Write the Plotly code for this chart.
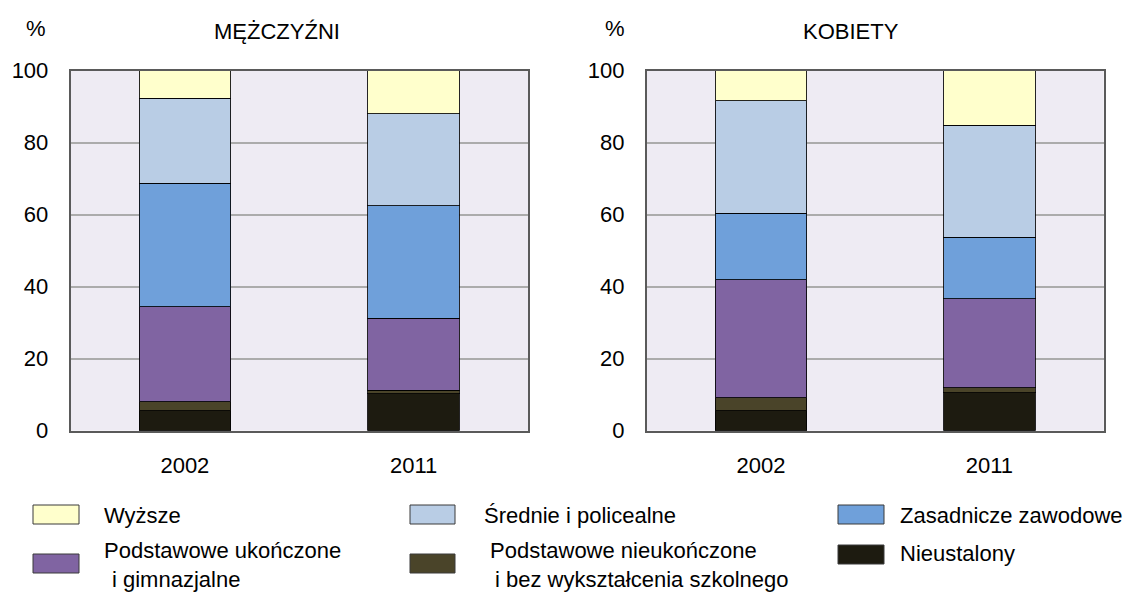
import plotly.graph_objects as go

W, H = 1141, 592
OFF = 8  # default body margin of the page
FW, FH = W - OFF, H - OFF

categories = ["2002", "2011"]

series_names = [
    "Nieustalony",
    "Podstawowe nieukończone\ni bez wykształcenia szkolnego",
    "Podstawowe ukończone\ni gimnazjalne",
    "Zasadnicze zawodowe",
    "Średnie i policealne",
    "Wyższe",
]
series_colors = ["#1D1B10", "#4A4429", "#8064A2", "#6FA0DA", "#B9CDE5", "#FFFFCC"]

men_nieustalony = [5.6, 10.3]
men_nieukonczone = [2.5, 1.0]
men_ukonczone = [26.3, 20.0]
men_zasadnicze = [34.3, 31.2]
men_srednie = [23.7, 25.6]
men_wyzsze = [7.6, 11.9]

women_nieustalony = [5.5, 10.5]
women_nieukonczone = [3.6, 1.4]
women_ukonczone = [32.8, 24.8]
women_zasadnicze = [18.5, 17.1]
women_srednie = [31.2, 31.0]
women_wyzsze = [8.4, 15.2]

men = [men_nieustalony, men_nieukonczone, men_ukonczone, men_zasadnicze, men_srednie, men_wyzsze]
women = [women_nieustalony, women_nieukonczone, women_ukonczone, women_zasadnicze, women_srednie, women_wyzsze]

panel_titles = ["MĘŻCZYŹNI", "KOBIETY"]
y_ticks = [0, 20, 40, 60, 80, 100]

FONT = "Liberation Sans, Arial, sans-serif"
FS = 22


def px(x):
    return (x - OFF) / FW


def py(y):
    return 1 - (y - OFF) / FH


fig = go.Figure()
for panel, data in enumerate([men, women]):
    xa = "x" if panel == 0 else "x2"
    ya = "y" if panel == 0 else "y2"
    for name, color, vals in zip(series_names, series_colors, data):
        fig.add_trace(go.Bar(
            x=categories, y=vals, name=name.replace("\n", " "),
            marker=dict(color=color, line=dict(color="rgba(0,0,0,0.85)", width=1)),
            xaxis=xa, yaxis=ya, showlegend=False,
        ))

axis_common_x = dict(
    type="category", showline=True, mirror=True, linecolor="#5A5A5A", linewidth=1.5,
    showgrid=False, ticks="outside", ticklen=14, tickcolor="rgba(0,0,0,0)",
    tickfont=dict(family=FONT, size=FS, color="#000"), fixedrange=True, automargin=False,
)
axis_common_y = dict(
    range=[0, 100], tickvals=y_ticks, showline=True, mirror=True, linecolor="#5A5A5A",
    linewidth=1.5, showgrid=True, gridcolor="#ABABAB", gridwidth=1.5, zeroline=False,
    ticks="outside", ticklen=16, tickcolor="rgba(0,0,0,0)",
    tickfont=dict(family=FONT, size=FS, color="#000"), fixedrange=True, automargin=False,
)

fig.update_layout(
    width=FW, height=FH,
    margin=dict(l=0, r=0, t=0, b=0, autoexpand=False),
    paper_bgcolor="white", plot_bgcolor="#EEEBF3",
    barmode="stack", bargap=0.6,
    font=dict(family=FONT, size=FS, color="#000"),
    xaxis=dict(domain=[px(70.5), px(528)], anchor="y", **axis_common_x),
    yaxis=dict(domain=[py(430.7), py(70.7)], anchor="x", **axis_common_y),
    xaxis2=dict(domain=[px(646.7), px(1103.7)], anchor="y2", **axis_common_x),
    yaxis2=dict(domain=[py(430.7), py(70.7)], anchor="x2", **axis_common_y),
    showlegend=False,
)

annotations = []
for xpos, text in [(36, "%"), (614.5, "%")]:
    annotations.append(dict(x=px(xpos), y=py(29), xref="paper", yref="paper", text=text,
                            showarrow=False, xanchor="center", yanchor="middle",
                            font=dict(family=FONT, size=FS, color="#000")))
for xpos, text in zip([276.5, 851], panel_titles):
    annotations.append(dict(x=px(xpos), y=py(32), xref="paper", yref="paper", text=text,
                            showarrow=False, xanchor="center", yanchor="middle",
                            font=dict(family=FONT, size=FS, color="#000")))

legend_order = [5, 4, 3, 2, 1, 0]
rect_x = [(33, 79), (410, 455), (838, 884)]
rect_y_row = [(505, 524), (554, 573)]
shapes = []
for k, si in enumerate(legend_order):
    row, col = divmod(k, 3)
    x0, x1 = rect_x[col]
    if row == 0:
        y0, y1 = rect_y_row[0]
    elif col == 2:
        y0, y1 = 545, 564
    else:
        y0, y1 = rect_y_row[1]
    shapes.append(dict(type="rect", xref="paper", yref="paper",
                       x0=px(x0), x1=px(x1), y0=py(y1), y1=py(y0),
                       fillcolor=series_colors[si], line=dict(color="#3A3A3A", width=1)))
    lines = series_names[si].split("\n")
    if row == 0:
        tx = [101.5, 481.5, 898][col]
        annotations.append(dict(x=px(tx), y=py(515.5), xref="paper", yref="paper",
                                text=lines[0], showarrow=False, xanchor="left", yanchor="middle",
                                font=dict(family=FONT, size=FS, color="#000")))
    else:
        if len(lines) == 1:
            annotations.append(dict(x=px(898), y=py(553.5), xref="paper", yref="paper",
                                    text=lines[0], showarrow=False, xanchor="left", yanchor="middle",
                                    font=dict(family=FONT, size=FS, color="#000")))
        else:
            tx1 = [101.5, 488][col]
            tx2 = [110, 493][col]
            annotations.append(dict(x=px(tx1), y=py(565), xref="paper", yref="paper",
                                    text=lines[0], showarrow=False, xanchor="left", yanchor="bottom",
                                    font=dict(family=FONT, size=FS, color="#000")))
            annotations.append(dict(x=px(tx2), y=py(565), xref="paper", yref="paper",
                                    text=lines[1], showarrow=False, xanchor="left", yanchor="top",
                                    font=dict(family=FONT, size=FS, color="#000")))

fig.update_layout(annotations=annotations, shapes=shapes)

fig.write_html("out.html")
